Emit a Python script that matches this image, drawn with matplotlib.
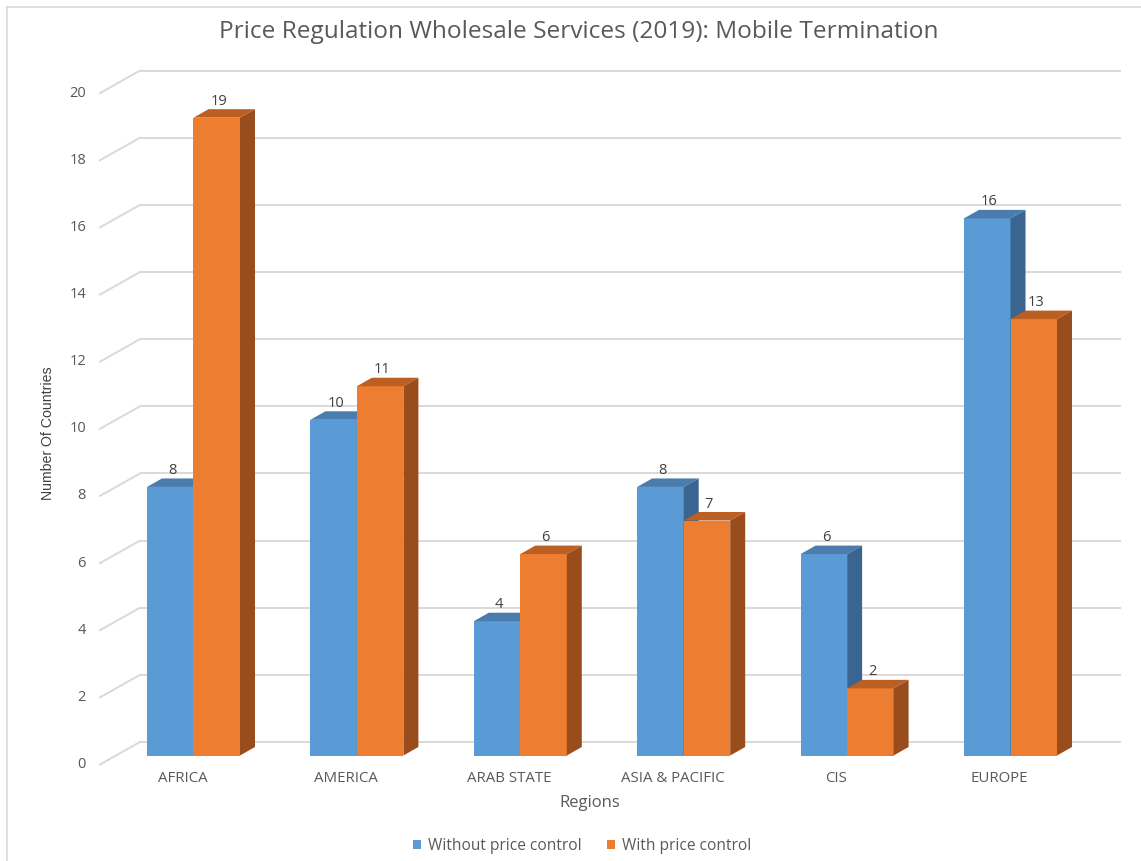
import matplotlib
matplotlib.use('Agg')
import matplotlib.pyplot as plt
from matplotlib.patches import Polygon, Patch
from matplotlib.lines import Line2D

# ---------------- data ----------------
regions = ["AFRICA", "AMERICA", "ARAB STATE", "ASIA & PACIFIC", "CIS", "EUROPE"]
without_ctrl = [8, 10, 4, 8, 6, 16]
with_ctrl = [19, 11, 6, 7, 2, 13]
series_names = ["Without price control", "With price control"]
y_ticks = [0, 2, 4, 6, 8, 10, 12, 14, 16, 18, 20]
title = "Price Regulation Wholesale Services (2019): Mobile Termination"
x_title = "Regions"
y_title = "Number Of Countries"

# ---------------- style ----------------
face_cols = ["#5B9BD5", "#ED7D31"]
top_cols = ["#4A7CAD", "#BC5F23"]
side_cols = ["#3A6590", "#9A4D1C"]
grid_col = "#D9D9D9"
text_col = "#595959"
FONT = ["Open Sans", "DejaVu Sans"]

W, H = 1141, 861
fig = plt.figure(figsize=(W / 100, H / 100), dpi=100)
ax = fig.add_axes([0, 0, 1, 1])

# scale: pixels per category step / per value unit
x0_px, xs_px = 193.5, 163.4
y0_px, ys_px = 755.5, 33.57
ax.set_xlim(-x0_px / xs_px, (W - x0_px) / xs_px)
ax.set_ylim((y0_px - H) / ys_px, y0_px / ys_px)
ax.axis('off')

def dx(p):
    return p / xs_px

def dy(p):
    return p / ys_px

bar_w = dx(46.5)
depth_x, depth_y = dx(15), dy(8.5)
back_dy = dy(13.5)
wall_left = dx(140 - x0_px)
wall_right = dx(1121 - x0_px)
front_left = dx(100 - x0_px)
front_dy = -dy(9)

# back wall gridlines + left slanted lines + tick labels
for v in y_ticks:
    ax.plot([wall_left, wall_right], [v + back_dy] * 2, color=grid_col, lw=1.4,
            solid_capstyle='butt', zorder=1)
    ax.plot([front_left, wall_left], [v + front_dy, v + back_dy], color=grid_col,
            lw=1.4, zorder=1)
    ax.text(dx(86 - x0_px), v + front_dy, str(v), ha='right', va='center',
            fontsize=10.5, color=text_col, family=FONT)

# 3D bars
series = [without_ctrl, with_ctrl]
for i in range(len(regions)):
    for s, vals in enumerate(series):
        v = vals[i]
        left = i - bar_w + s * bar_w
        right = left + bar_w
        ax.bar(left, v, width=bar_w, align='edge', color=face_cols[s],
               edgecolor='none', zorder=3)
        top = Polygon([(left, v), (right, v), (right + depth_x, v + depth_y),
                       (left + depth_x, v + depth_y)], closed=True,
                      facecolor=top_cols[s], edgecolor='none', zorder=3)
        side = Polygon([(right, 0), (right + depth_x, depth_y),
                        (right + depth_x, v + depth_y), (right, v)], closed=True,
                       facecolor=side_cols[s], edgecolor='none', zorder=3)
        ax.add_patch(top)
        ax.add_patch(side)

# data labels
for i in range(len(regions)):
    for s, vals in enumerate(series):
        v = vals[i]
        cx = i - bar_w + s * bar_w + bar_w / 2 + dx(2)
        ax.text(cx, v + depth_y + dy(0.5), str(v), ha='center', va='bottom',
                fontsize=10.5, color="#404040", family=FONT, zorder=5)

# category labels
for i, r in enumerate(regions):
    ax.text(i - dx(11), -dy(779 - y0_px), r, ha='center', va='center',
            fontsize=10.8, color=text_col, family=FONT)

# titles
fig.text(579 / W, 1 - 32 / H, title, ha='center', va='center', fontsize=17.6,
         color=text_col, family=FONT)
fig.text(590 / W, 1 - 803 / H, x_title, ha='center', va='center', fontsize=12,
         color=text_col, family=FONT)
fig.text(48 / W, 1 - 433 / H, y_title, ha='center', va='center', fontsize=10.2,
         rotation=90, color="#404040",
         family=["Liberation Sans", "DejaVu Sans"])

# legend
handles = [Patch(facecolor=face_cols[0], edgecolor='none'),
           Patch(facecolor=face_cols[1], edgecolor='none')]
leg = fig.legend(handles, series_names, loc='center', bbox_to_anchor=(582 / W, 1 - 846 / H),
                 ncol=2, frameon=False, handlelength=0.55, handleheight=0.55,
                 handletextpad=0.45, columnspacing=1.6,
                 prop={'family': FONT, 'size': 11.2})
for t in leg.get_texts():
    t.set_color(text_col)

# chart border (partially visible)
fig.add_artist(Line2D([7 / W, 1], [1 - 7 / H, 1 - 7 / H], color=grid_col, lw=1.2))
fig.add_artist(Line2D([7 / W, 7 / W], [0, 1 - 7 / H], color=grid_col, lw=1.2))

fig.savefig("out.png", dpi=100)
